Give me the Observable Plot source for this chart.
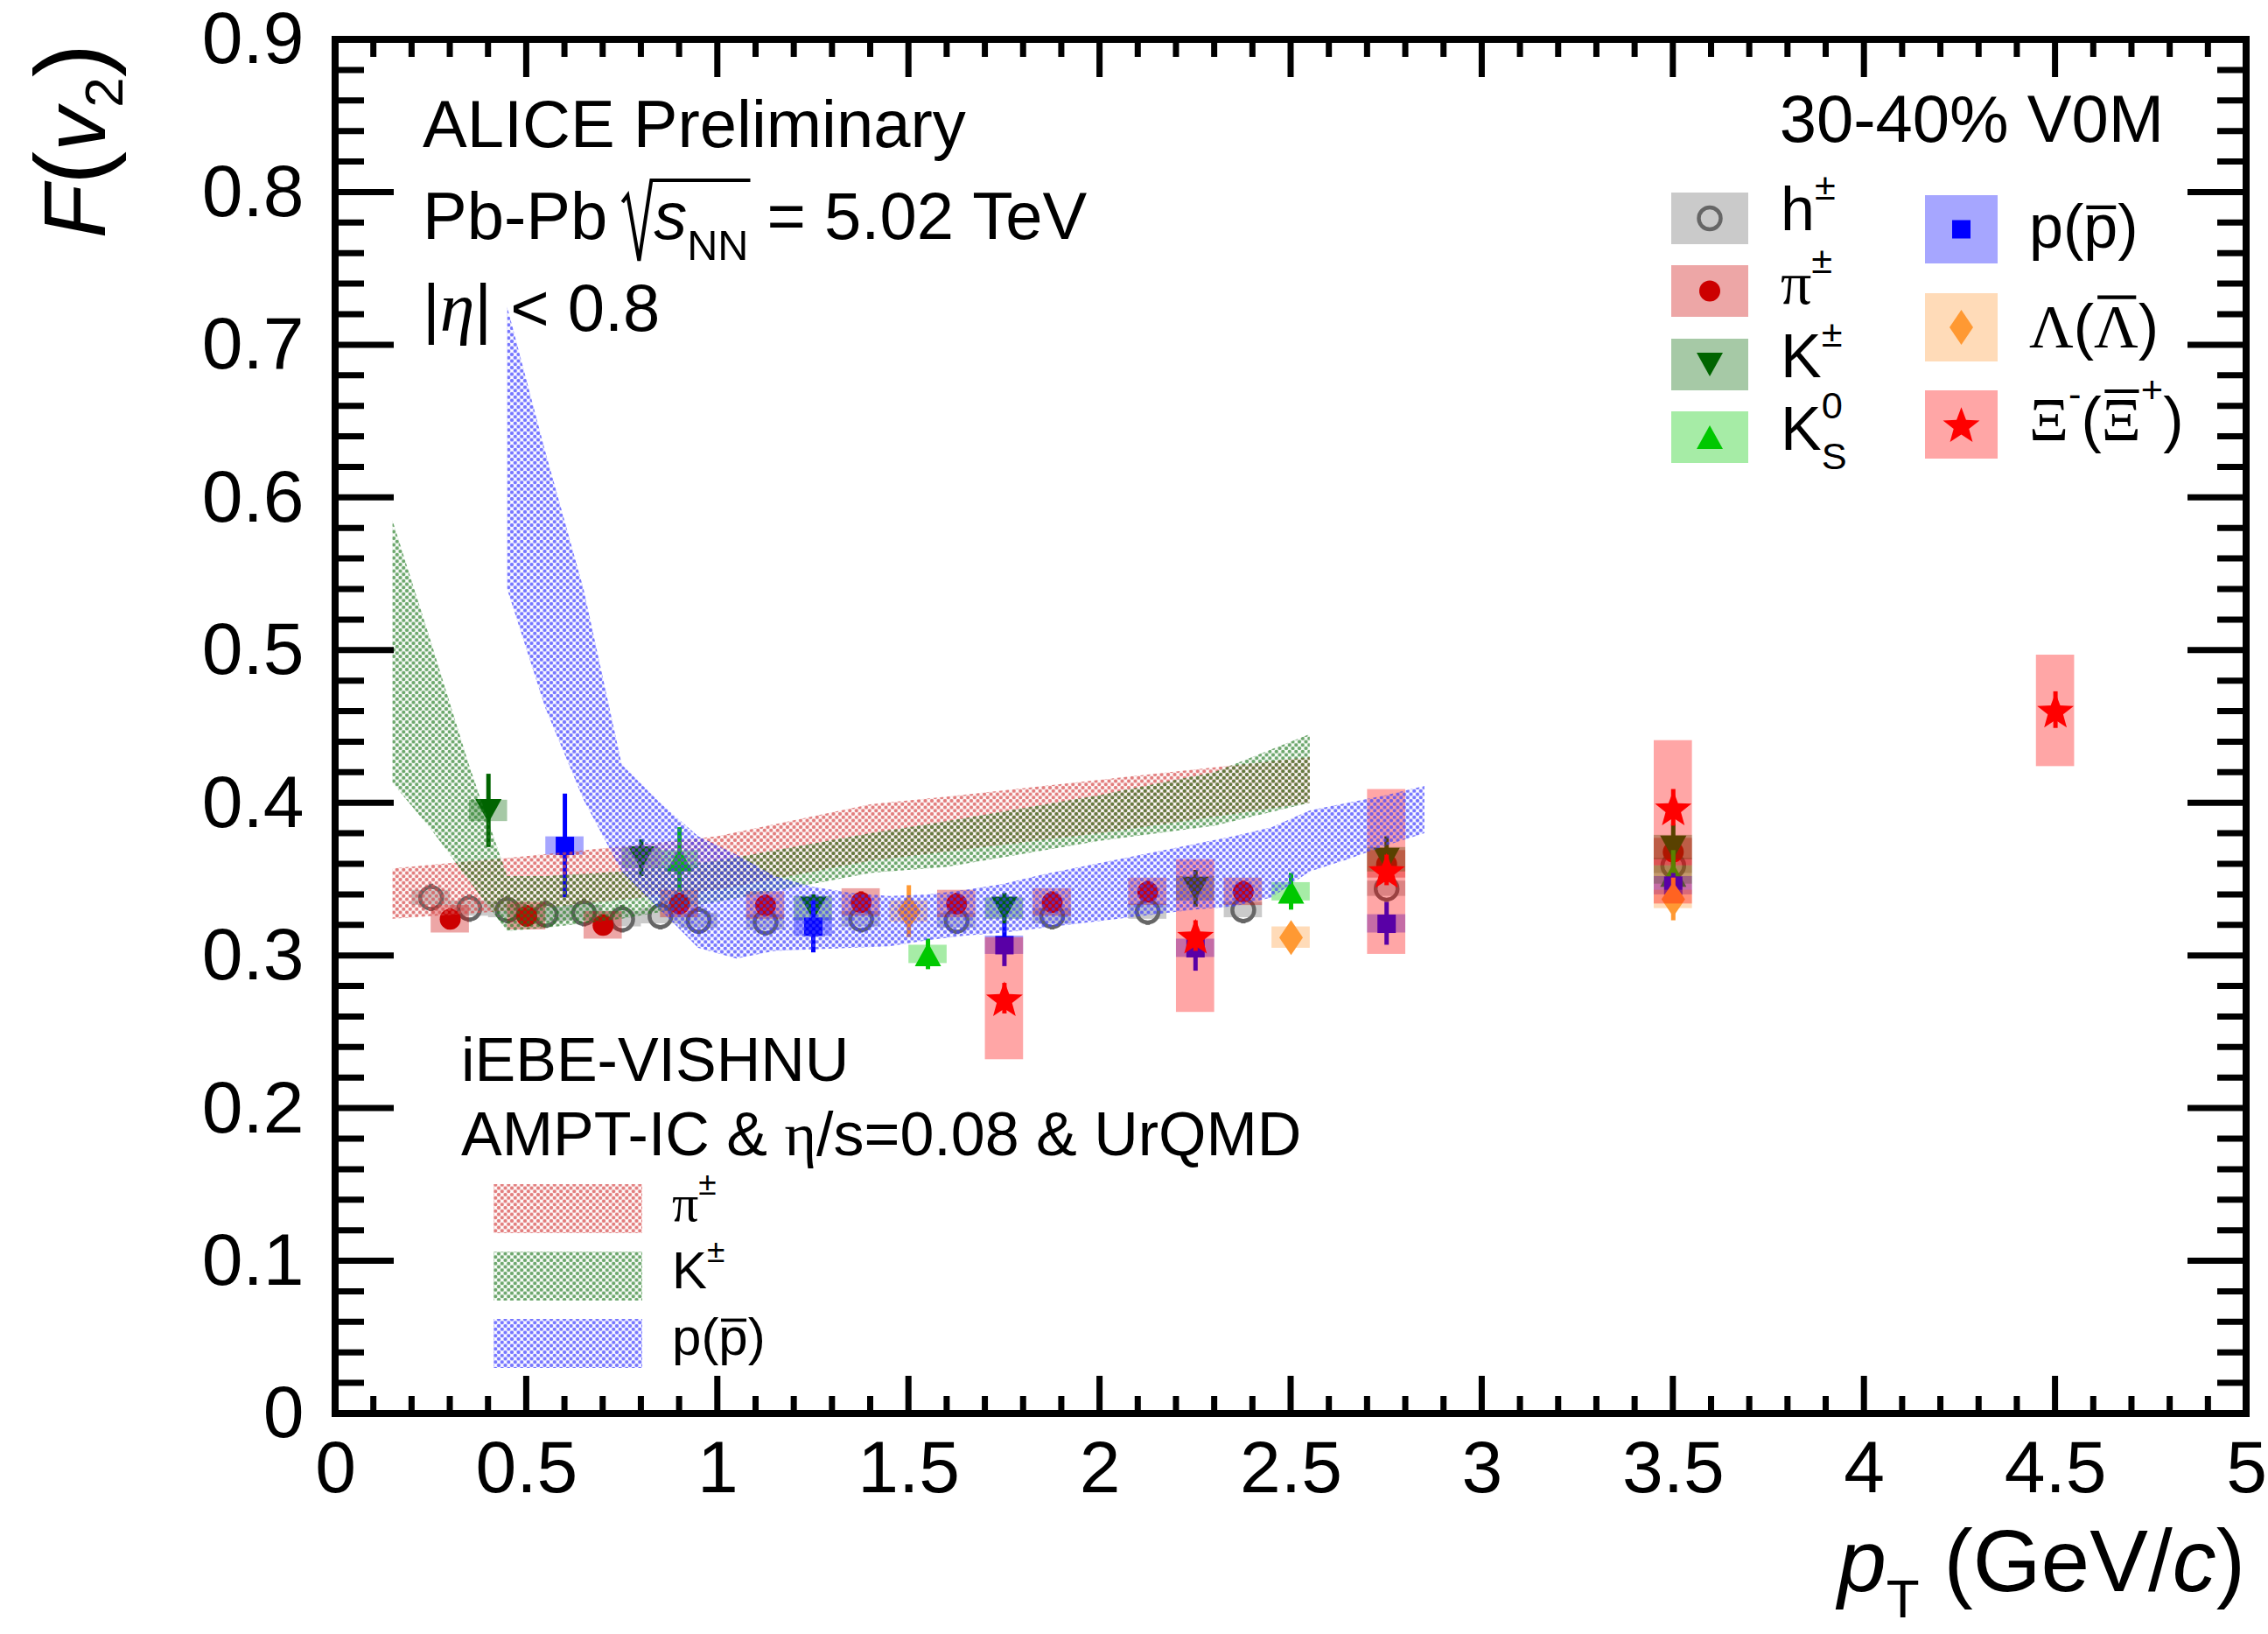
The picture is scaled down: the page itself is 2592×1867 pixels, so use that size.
<!DOCTYPE html>
<html><head><meta charset="utf-8">
<script src="https://cdn.jsdelivr.net/npm/d3@7"></script>
<script src="https://cdn.jsdelivr.net/npm/@observablehq/plot@0.6"></script>
<style>
html,body{margin:0;padding:0;background:#fff;}
#chart svg{display:block;}
</style></head><body><div id="chart"></div>
<script>
// ---------------- DATA ----------------
const xTicks = [0, 0.5, 1, 1.5, 2, 2.5, 3, 3.5, 4, 4.5, 5];
const yTicks = [0, 0.1, 0.2, 0.3, 0.4, 0.5, 0.6, 0.7, 0.8, 0.9];

// h+-
const hPt   = [0.25, 0.35, 0.45, 0.55, 0.65, 0.75, 0.85, 0.95, 1.125, 1.375, 1.625, 1.875, 2.125, 2.375, 2.75, 3.5];
const hVal  = [0.338, 0.331, 0.330, 0.327, 0.328, 0.324, 0.326, 0.323, 0.322, 0.324, 0.323, 0.326, 0.329, 0.330, 0.344, 0.359];
const hStat = [0.009, 0.009, 0.009, 0.009, 0.009, 0.009, 0.009, 0.009, 0.009, 0.009, 0.009, 0.009, 0.009, 0.009, 0.009, 0.009];
const hSys  = [0.005, 0.005, 0.005, 0.005, 0.005, 0.005, 0.005, 0.005, 0.005, 0.005, 0.005, 0.005, 0.005, 0.005, 0.005, 0.005];
// pi+-
const piPt   = [0.3, 0.5, 0.7, 0.9, 1.125, 1.375, 1.625, 1.875, 2.125, 2.375, 2.75, 3.5];
const piVal  = [0.324, 0.326, 0.320, 0.334, 0.333, 0.335, 0.334, 0.335, 0.342, 0.342, 0.360, 0.368];
const piStat = [0.007, 0.007, 0.007, 0.007, 0.007, 0.007, 0.007, 0.007, 0.007, 0.007, 0.008, 0.008];
const piSys  = [0.009, 0.009, 0.009, 0.009, 0.009, 0.009, 0.009, 0.009, 0.009, 0.009, 0.009, 0.009];
// K+-
const kPt   = [0.4, 0.8, 1.25, 1.75, 2.25, 2.75, 3.5];
const kVal  = [0.395, 0.364, 0.331, 0.331, 0.344, 0.363, 0.371];
const kStat = [0.024, 0.012, 0.009, 0.010, 0.012, 0.015, 0.015];
const kSys  = [0.007, 0.007, 0.008, 0.007, 0.008, 0.008, 0.008];
// K0S
const k0Pt   = [0.9, 1.55, 2.5, 3.5];
const k0Val  = [0.363, 0.301, 0.342, 0.353];
const k0Stat = [0.021, 0.010, 0.012, 0.016];
const k0Sys  = [0.006, 0.006, 0.006, 0.006];
// p(pbar)
const pPt   = [0.6, 1.25, 1.75, 2.25, 2.75, 3.5];
const pVal  = [0.372, 0.319, 0.307, 0.305, 0.321, 0.346];
const pStat = [0.034, 0.017, 0.014, 0.015, 0.014, 0.008];
const pSys  = [0.006, 0.006, 0.006, 0.006, 0.006, 0.006];
// Lambda
const lamPt   = [1.5, 2.5, 3.5];
const lamVal  = [0.329, 0.312, 0.337];
const lamStat = [0.017, 0.008, 0.014];
const lamSys  = [0.007, 0.007, 0.006];
// Xi
const xiPt    = [1.75, 2.25, 2.75, 3.5, 4.5];
const xiVal   = [0.272, 0.313, 0.356, 0.397, 0.461];
const xiStat  = [0.010, 0.010, 0.010, 0.012, 0.012];
const xiSysLo = [0.040, 0.050, 0.055, 0.063, 0.037];
const xiSysHi = [0.040, 0.050, 0.053, 0.044, 0.036];

// iEBE-VISHNU model bands
const piBandPt = [0.15, 0.5, 1.0, 1.4, 1.6, 2.0, 2.55];
const piBandLo = [0.324, 0.330, 0.343, 0.362, 0.368, 0.380, 0.400];
const piBandHi = [0.357, 0.365, 0.378, 0.399, 0.404, 0.415, 0.430];

const kBandPt = [0.15, 0.25, 0.35, 0.45, 0.55, 0.75, 1.0, 1.4, 1.6, 2.0, 2.3, 2.55];
const kBandLo = [0.413, 0.383, 0.349, 0.316, 0.318, 0.324, 0.335, 0.354, 0.358, 0.375, 0.385, 0.400];
const kBandHi = [0.585, 0.506, 0.425, 0.352, 0.352, 0.355, 0.362, 0.380, 0.388, 0.405, 0.420, 0.445];

const pBandPt = [0.45, 0.55, 0.65, 0.75, 0.85, 0.95, 1.05, 1.15, 1.25, 1.35, 1.45, 1.55, 1.65, 1.75, 1.85, 1.95, 2.05, 2.15, 2.25, 2.35, 2.45, 2.55, 2.65, 2.75, 2.85];
const pBandLo = [0.540, 0.462, 0.402, 0.355, 0.330, 0.305, 0.298, 0.303, 0.304, 0.305, 0.306, 0.310, 0.313, 0.315, 0.318, 0.321, 0.324, 0.327, 0.330, 0.332, 0.338, 0.355, 0.363, 0.372, 0.380];
const pBandHi = [0.725, 0.630, 0.540, 0.425, 0.400, 0.378, 0.366, 0.352, 0.345, 0.341, 0.339, 0.340, 0.343, 0.347, 0.353, 0.358, 0.363, 0.368, 0.373, 0.378, 0.384, 0.395, 0.400, 0.405, 0.411];

// ---------------- STYLE ----------------
const SANS = "'Liberation Sans', Arial, Helvetica, sans-serif";
const SERIF = "'Liberation Serif', 'Times New Roman', serif";
const W = 2592, H = 1867;
const mL = 383, mR = 25, mT = 45, mB = 252;
const BOX_HALF = 0.05;

const rad = s => Math.sqrt(s / Math.PI);
const symTriDown = {draw(c, s){ const R = rad(s), h = 0.9*R; c.moveTo(-R,-h); c.lineTo(R,-h); c.lineTo(0,h); c.closePath(); }};
const symTriUp   = {draw(c, s){ const R = rad(s), h = 0.9*R; c.moveTo(-R,h); c.lineTo(R,h); c.lineTo(0,-h); c.closePath(); }};
const symDiamond = {draw(c, s){ const R = rad(s), h = 1.48*R; c.moveTo(0,-h); c.lineTo(R,0); c.lineTo(0,h); c.lineTo(-R,0); c.closePath(); }};
const symSquare  = {draw(c, s){ const R = rad(s); c.rect(-R,-R,2*R,2*R); }};
const symStar    = {draw(c, s){ const R = rad(s); for (let i=0;i<10;i++){ const a=-Math.PI/2+i*Math.PI/5, r=i%2?R*0.42:R; const px=r*Math.cos(a), py=r*Math.sin(a)+0.1*R; if(i===0)c.moveTo(px,py); else c.lineTo(px,py);} c.closePath(); }};
const symCircle  = {draw(c, s){ const R = rad(s); c.moveTo(R,0); c.arc(0,0,R,0,2*Math.PI); }};

const species = [
  {pt:hPt, v:hVal, st:hStat, lo:hSys, hi:hSys, color:"#666666", sym:symCircle, r:12.5, open:true},
  {pt:piPt, v:piVal, st:piStat, lo:piSys, hi:piSys, color:"#cc0000", sym:symCircle, r:12},
  {pt:kPt, v:kVal, st:kStat, lo:kSys, hi:kSys, color:"#006400", sym:symTriDown, r:15},
  {pt:k0Pt, v:k0Val, st:k0Stat, lo:k0Sys, hi:k0Sys, color:"#00c800", sym:symTriUp, r:15},
  {pt:pPt, v:pVal, st:pStat, lo:pSys, hi:pSys, color:"#0000ff", sym:symSquare, r:10.5},
  {pt:lamPt, v:lamVal, st:lamStat, lo:lamSys, hi:lamSys, color:"#ff9933", sym:symDiamond, r:13.5},
  {pt:xiPt, v:xiVal, st:xiStat, lo:xiSysLo, hi:xiSysHi, color:"#ff0000", sym:symStar, r:22}
];

const pxPerUnit = (H - mT - mB) / 0.9;
const marks = [];
for (const sp of species) {
  const rows = sp.pt.map((x, i) => ({x, v: sp.v[i], e1: sp.v[i] - sp.st[i], e2: sp.v[i] + sp.st[i], b1: sp.v[i] - sp.lo[i], b2: sp.v[i] + sp.hi[i]}));
  marks.push(Plot.rect(rows, {x1: d => d.x - BOX_HALF, x2: d => d.x + BOX_HALF, y1: "b1", y2: "b2", fill: sp.color, fillOpacity: 0.35}));
  const gap = sp.open ? (sp.r + 1) / pxPerUnit : 0;
  marks.push(Plot.ruleX(rows, {x: "x", y1: "e1", y2: d => Math.max(d.e1, d.v - gap), stroke: sp.color, strokeWidth: 5}));
  marks.push(Plot.ruleX(rows, {x: "x", y1: d => Math.min(d.e2, d.v + gap), y2: "e2", stroke: sp.color, strokeWidth: 5}));
  if (sp.open) marks.push(Plot.dot(rows, {x: "x", y: "v", r: sp.r, symbol: "circle", fill: "none", stroke: sp.color, strokeWidth: 4.5}));
  else marks.push(Plot.dot(rows, {x: "x", y: "v", r: sp.r, symbol: sp.sym, fill: sp.color, stroke: "none"}));
}
const band = (pt, lo, hi) => pt.map((x, i) => ({x, lo: lo[i], hi: hi[i]}));
marks.push(Plot.areaY(band(piBandPt, piBandLo, piBandHi), {x: "x", y1: "lo", y2: "hi", fill: "url(#patRed)"}));
marks.push(Plot.areaY(band(kBandPt, kBandLo, kBandHi), {x: "x", y1: "lo", y2: "hi", fill: "url(#patGreen)"}));
marks.push(Plot.areaY(band(pBandPt, pBandLo, pBandHi), {x: "x", y1: "lo", y2: "hi", fill: "url(#patBlue)"}));

marks.push(Plot.axisX({ticks: xTicks, tickSize: 0, tickPadding: 30, label: null, tickFormat: d => String(d), fontSize: 84}));
marks.push(Plot.axisY({ticks: yTicks, tickSize: 0, tickPadding: 36, label: null, tickFormat: d => String(d), fontSize: 84}));

const chartSvg = Plot.plot({
  width: W, height: H,
  marginLeft: mL, marginRight: mR, marginTop: mT, marginBottom: mB,
  x: {domain: [0, 5]},
  y: {domain: [0, 0.9]},
  style: {fontFamily: SANS, fontSize: "84px", color: "#000", background: "#fff", overflow: "visible"},
  marks
});
document.getElementById("chart").appendChild(chartSvg);

// ---------------- POST: patterns, frame, ticks, texts ----------------
const svg = d3.select(chartSvg);
const defs = svg.insert("defs", ":first-child");
function makePattern(id, color, op) {
  const p = defs.append("pattern").attr("id", id).attr("patternUnits", "userSpaceOnUse").attr("width", 7.5).attr("height", 7.5);
  for (const [cx, cy] of [[0,0],[7.5,0],[0,7.5],[7.5,7.5],[3.75,3.75]])
    p.append("circle").attr("cx", cx).attr("cy", cy).attr("r", 2.2).attr("fill", color).attr("fill-opacity", op);
}
makePattern("patRed", "rgb(215,75,75)", 0.72);
makePattern("patGreen", "rgb(30,120,30)", 0.65);
makePattern("patBlue", "rgb(60,60,255)", 0.7);

const xs = chartSvg.scale("x"), ys = chartSvg.scale("y");
const X = v => xs.apply(v), Y = v => ys.apply(v);
const frameG = svg.append("g");
const fx0 = X(0), fx1 = X(5), fy0 = Y(0), fy1 = Y(0.9);
const tk = frameG.append("g").attr("stroke", "#000").attr("stroke-width", 7);
for (let i = 0; i <= 50; i++) {
  const v = i / 10, len = i % 5 === 0 ? 43 : 20;
  tk.append("line").attr("x1", X(v)).attr("x2", X(v)).attr("y1", fy0).attr("y2", fy0 - len);
  tk.append("line").attr("x1", X(v)).attr("x2", X(v)).attr("y1", fy1).attr("y2", fy1 + len);
}
for (let i = 0; i <= 45; i++) {
  const v = i / 50, len = i % 5 === 0 ? 67 : 33;
  tk.append("line").attr("y1", Y(v)).attr("y2", Y(v)).attr("x1", fx0).attr("x2", fx0 + len);
  tk.append("line").attr("y1", Y(v)).attr("y2", Y(v)).attr("x1", fx1).attr("x2", fx1 - len);
}
frameG.append("rect").attr("x", fx0).attr("y", fy1).attr("width", fx1 - fx0).attr("height", fy0 - fy1)
  .attr("fill", "none").attr("stroke", "#000").attr("stroke-width", 8);

function rich(parent, x, y, runs, opt = {}) {
  const size = opt.size || 76, anchor = opt.anchor || "start";
  const outer = parent.append("g").attr("transform", `translate(${x},${y})${opt.rotate ? ` rotate(${opt.rotate})` : ""}`);
  const g = outer.append("g");
  let cx = 0, prevStart = 0, prevW = 0; const pos = [];
  for (const r of runs) {
    const fs = size * (r.scale || 1);
    const start = r.same ? prevStart : cx;
    let w;
    if (r.gap != null) w = r.gap * size;
    else {
      const t = g.append("text").attr("x", start).attr("y", (r.dy || 0) * size)
        .attr("text-anchor", "start")
        .attr("font-size", fs).attr("font-family", r.serif ? SERIF : SANS).attr("fill", "#000")
        .text(r.t.replace(/ /g, "\u00a0"));
      if (r.italic) t.attr("font-style", "italic");
      w = t.node().getComputedTextLength();
    }
    if (r.over != null) g.append("line").attr("x1", start + w * 0.08).attr("x2", start + w * 0.95)
      .attr("y1", -r.over * size).attr("y2", -r.over * size).attr("stroke", "#000").attr("stroke-width", size * 0.06);
    pos.push({start, w});
    cx = r.same ? prevStart + Math.max(prevW, w) : start + w;
    prevStart = start; prevW = w;
    cx += (r.kern || 0) * size;
  }
  const shift = anchor === "end" ? -cx : anchor === "middle" ? -cx / 2 : 0;
  g.attr("transform", `translate(${shift},0)`);
  return {g, pos, width: cx};
}
const txt = svg.append("g");

rich(txt, 2566, 1818, [{t: "p", italic: true}, {t: "T", scale: 0.62, dy: 0.3}, {t: " (GeV/"}, {t: "c", italic: true}, {t: ")"}], {size: 100, anchor: "end"});
rich(txt, 120, 50, [{t: "F", italic: true}, {t: "(", scale: 1.15}, {t: "v", italic: true}, {t: "2", scale: 0.62, dy: 0.2}, {t: ")", scale: 1.15}], {size: 100, anchor: "end", rotate: -90});

rich(txt, 483, 168, [{t: "ALICE Preliminary"}], {size: 76});
const pb = rich(txt, 483, 273, [{t: "Pb-Pb "}, {gap: 0.42}, {t: "s", italic: true}, {t: "NN", scale: 0.64, dy: 0.32}, {t: " = 5.02 TeV"}], {size: 76});
{
  const r0 = pb.pos[1].start, endNN = pb.pos[3].start + pb.pos[3].w + 2;
  pb.g.append("path").attr("d", `M${r0 - 4},${-42} L${r0 + 2},${-50} L${r0 + 15},${25} L${r0 + 29},${-67} L${endNN},${-67}`)
    .attr("fill", "none").attr("stroke", "#000").attr("stroke-width", 4);
}
rich(txt, 483, 378, [{t: "|"}, {t: "\u03b7", italic: true, serif: true, scale: 1.05}, {t: "|"}, {t: " < 0.8"}], {size: 76});
rich(txt, 2473, 162, [{t: "30-40% V0M"}], {size: 76, anchor: "end"});

const leg = svg.append("g");
function legendEntry(bx, by, bw, bh, sp) {
  leg.append("rect").attr("x", bx).attr("y", by).attr("width", bw).attr("height", bh).attr("fill", sp.color).attr("fill-opacity", 0.35);
  const cx = bx + bw / 2, cy = by + bh / 2;
  const path = d3.symbol(sp.sym, Math.PI * sp.r * sp.r)();
  const m = leg.append("path").attr("d", path).attr("transform", `translate(${cx},${cy})`);
  if (sp.open) m.attr("fill", "none").attr("stroke", sp.color).attr("stroke-width", 4.5);
  else m.attr("fill", sp.color);
}
const Lx1 = 1910, Lbw1 = 88, Lbh1 = 59;
legendEntry(Lx1, 220, Lbw1, Lbh1, species[0]);
legendEntry(Lx1, 303, Lbw1, Lbh1, species[1]);
legendEntry(Lx1, 387, Lbw1, Lbh1, species[2]);
legendEntry(Lx1, 470, Lbw1, Lbh1, species[3]);
const Lx2 = 2200, Lbw2 = 83, Lbh2 = 78;
legendEntry(Lx2, 223, Lbw2, Lbh2, species[4]);
legendEntry(Lx2, 335, Lbw2, Lbh2, species[5]);
legendEntry(Lx2, 446, Lbw2, Lbh2, species[6]);

const LS = 70;
rich(leg, 2035, 263, [{t: "h"}, {t: "\u00b1", scale: 0.62, dy: -0.5}], {size: LS});
rich(leg, 2035, 347, [{t: "\u03c0", serif: true}, {t: "\u00b1", scale: 0.62, dy: -0.5}], {size: LS});
rich(leg, 2035, 431, [{t: "K"}, {t: "\u00b1", scale: 0.62, dy: -0.5}], {size: LS});
rich(leg, 2035, 514, [{t: "K"}, {t: "0", scale: 0.62, dy: -0.52}, {t: "S", scale: 0.62, dy: 0.32, same: true}], {size: LS});
rich(leg, 2319, 283, [{t: "p"}, {t: "("}, {t: "p", over: 0.66}, {t: ")"}], {size: LS});
rich(leg, 2319, 397, [{t: "\u039b", serif: true}, {t: "("}, {t: "\u039b", serif: true, over: 0.82}, {t: ")"}], {size: LS});
rich(leg, 2319, 503, [{t: "\u039e", serif: true}, {t: "-", scale: 0.62, dy: -0.55}, {t: "("}, {t: "\u039e", serif: true, over: 0.8}, {t: "+", scale: 0.62, dy: -0.62}, {t: ")"}], {size: LS});

rich(txt, 527, 1235, [{t: "iEBE-VISHNU"}], {size: 70});
rich(txt, 527, 1320, [{t: "AMPT-IC & "}, {t: "\u03b7", serif: true}, {t: "/s=0.08 & UrQMD"}], {size: 70});
const mleg = svg.append("g");
[["patRed", 1353, 1395, [{t: "\u03c0", serif: true}, {t: "\u00b1", scale: 0.62, dy: -0.5}]],
 ["patGreen", 1430, 1472, [{t: "K"}, {t: "\u00b1", scale: 0.62, dy: -0.5}]],
 ["patBlue", 1507, 1548, [{t: "p"}, {t: "("}, {t: "p", over: 0.66}, {t: ")"}]]].forEach(([pid, yb, base, runs]) => {
  mleg.append("rect").attr("x", 564).attr("y", yb).attr("width", 170).attr("height", 56).attr("fill", `url(#${pid})`);
  rich(mleg, 768, base, runs, {size: 60});
});
</script>
</body></html>
